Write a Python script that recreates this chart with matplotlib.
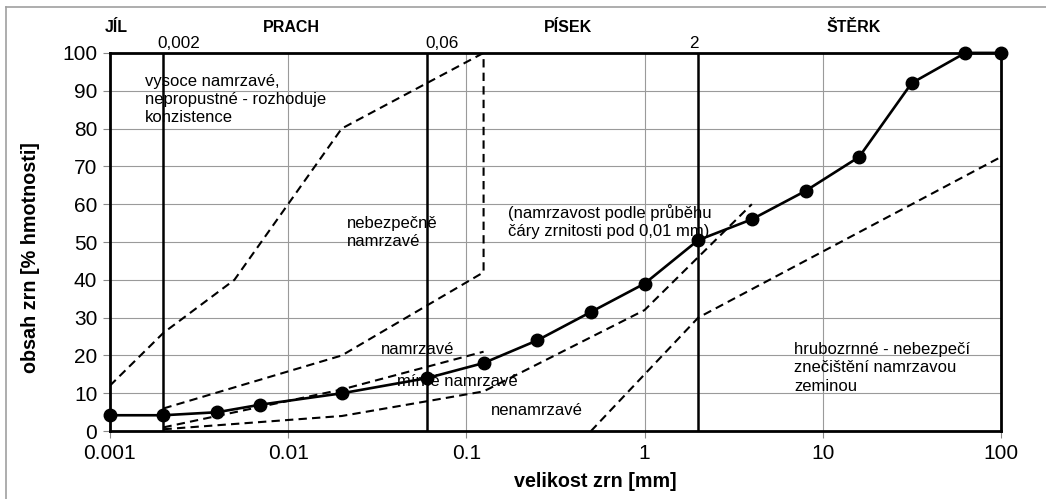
import numpy as np
import matplotlib
matplotlib.use("Agg")
import matplotlib.pyplot as plt
from matplotlib.lines import Line2D

plt.rcParams['font.family'] = ['Liberation Sans', 'DejaVu Sans']

# křivka zrnitosti (velikost zrn [mm], obsah [%])
d_zrn = [0.001, 0.002, 0.004, 0.007, 0.02, 0.06, 0.125, 0.25, 0.5, 1, 2, 4, 8, 16, 31.5, 63, 100]
obsah = [4.2, 4.2, 5, 7, 10, 14, 18, 24, 31.5, 39, 50.5, 56, 63.5, 72.5, 92, 100, 100]

# hranice oblastí namrzavosti (čárkované)
hr1_x = [0.001, 0.002, 0.005, 0.02, 0.125]
hr1_y = [12, 26, 40, 80, 100]
hr2_x = [0.002, 0.02, 0.125, 0.125]
hr2_y = [6, 20, 42, 100]
hr3_x = [0.002, 0.02, 0.125]
hr3_y = [1, 11, 21]
hr4_x = [0.002, 0.02, 0.125, 1, 4]
hr4_y = [0.5, 4, 10.5, 32, 60]
hr5_x = [0.5, 2, 100]
hr5_y = [0, 30, 72.5]

# hranice frakcí
frakce_x = [0.002, 0.06, 2]
frakce_txt = ["0,002", "0,06", "2"]
nazvy = ["JÍL", "PRACH", "PÍSEK", "ŠTĚRK"]
nazvy_x = [0.00108, 0.0105, 0.374, 14.9]

xticks = [0.001, 0.01, 0.1, 1, 10, 100]
xtick_lab = ["0.001", "0.01", "0.1", "1", "10", "100"]
yticks = list(range(0, 101, 10))

fig = plt.figure(figsize=(10.46, 4.99), dpi=100)
ax = fig.add_axes([0.105, 0.136, 0.852, 0.758])

# rámeček obrázku (jen horní a levý okraj je vidět)
fig.add_artist(Line2D([0.006, 0.006], [0, 0.985], color="#a0a0a0", lw=1.2, transform=fig.transFigure))
fig.add_artist(Line2D([0.006, 1.0], [0.985, 0.985], color="#a0a0a0", lw=1.2, transform=fig.transFigure))

ax.set_xscale("log")
ax.set_xlim(0.001, 100)
ax.set_ylim(0, 100)
ax.set_xticks(xticks)
ax.set_xticklabels(xtick_lab)
ax.set_yticks(yticks)
ax.minorticks_off()
ax.tick_params(axis="both", labelsize=15, length=5, width=0.8, color="#888888", pad=4)
ax.grid(True, color="#9a9a9a", lw=0.8)
ax.set_axisbelow(True)
for s in ax.spines.values():
    s.set_linewidth(2)

for fx in frakce_x:
    ax.axvline(fx, color="black", lw=1.8)

dash = (0, (4, 2.5))
for hx, hy in [(hr1_x, hr1_y), (hr2_x, hr2_y), (hr3_x, hr3_y), (hr4_x, hr4_y), (hr5_x, hr5_y)]:
    ax.plot(hx, hy, color="black", lw=1.5, linestyle=dash)

ax.plot(d_zrn, obsah, color="black", lw=1.9, marker="o", markersize=9, clip_on=False, zorder=5)

# popisy nad grafem
tr = ax.get_xaxis_transform()
for nx, nt in zip(nazvy_x, nazvy):
    ax.text(nx, 1.066, nt, transform=tr, ha="center", va="center", fontsize=11.5, fontweight="bold")
ax.text(0.00244, 1.026, frakce_txt[0], transform=tr, ha="center", va="center", fontsize=12.3)
ax.text(0.0733, 1.026, frakce_txt[1], transform=tr, ha="center", va="center", fontsize=12.3)
ax.text(1.88, 1.026, frakce_txt[2], transform=tr, ha="center", va="center", fontsize=12.3)

# popisy oblastí
kw = dict(fontsize=12, va="top", ha="left", linespacing=1.27)
ax.text(0.00157, 94.5, "vysoce namrzavé,\nnepropustné - rozhoduje\nkonzistence", **kw)
ax.text(0.0215, 57, "nebezpečně\nnamrzavé", **kw)
ax.text(0.172, 60, "(namrzavost podle průběhu\nčáry zrnitosti pod 0,01 mm)", **kw)
ax.text(0.033, 23.6, "namrzavé", **kw)
ax.text(0.0408, 15, "mírně namrzavé", **kw)
ax.text(0.137, 7.4, "nenamrzavé", **kw)
ax.text(6.9, 23.5, "hrubozrnné - nebezpečí\nznečištění namrzavou\nzeminou", **kw)

ax.set_xlabel("velikost zrn [mm]", fontsize=14.2, fontweight="bold")
ax.set_ylabel("obsah zrn [% hmotnosti]", fontsize=14.2, fontweight="bold")
ax.xaxis.set_label_coords(0.545, -0.108)
ax.yaxis.set_label_coords(-0.0786, 0.46)

fig.savefig("out.png", dpi=100)
